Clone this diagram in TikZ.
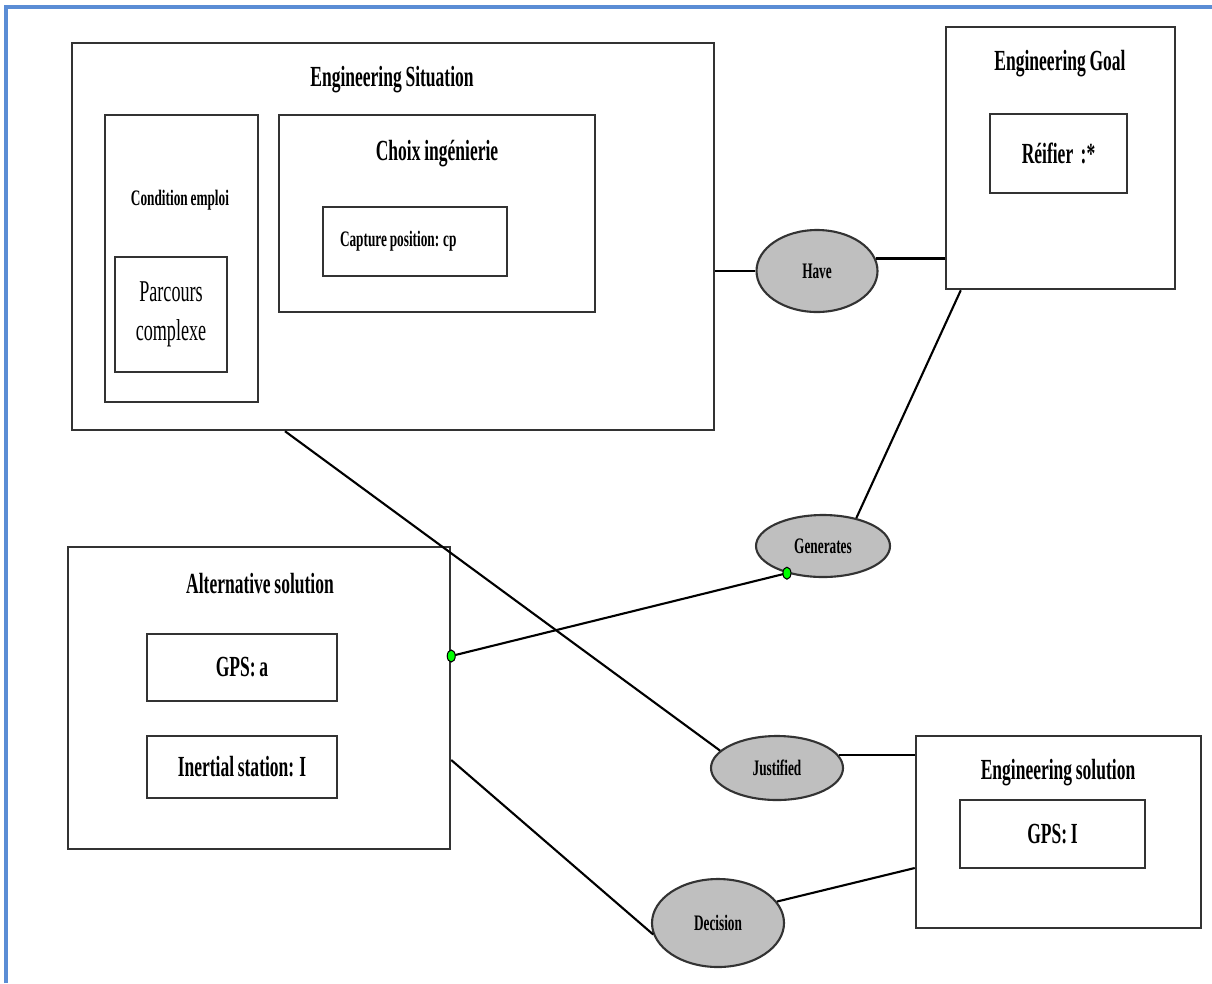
\documentclass[tikz,border=0pt]{standalone}
\usepackage{fontspec}
\setmainfont{Liberation Serif}[FakeStretch=0.6,WordSpace=0.85]
\usetikzlibrary{shapes.geometric,calc}

\begin{document}
\begin{tikzpicture}[x=0.1mm,y=-0.1mm,
      box/.style={draw=black!80,line width=0.7pt,inner sep=0pt},
      rel/.style={ellipse,draw=black!80,fill=black!25,line width=0.6pt,inner sep=0pt,font=\fontsize{6.3}{7}\selectfont\bfseries},
      ttl/.style={font=\fontsize{8.3}{10}\selectfont\bfseries},
      sml/.style={font=\fontsize{6.3}{7}\selectfont\bfseries},
      lnk/.style={line width=0.6pt},
      dot/.style={ellipse,draw=black,fill=green,line width=0.3pt,minimum width=0.8mm,minimum height=1.2mm,inner sep=0pt}]
      \useasboundingbox (0,0) rectangle (1212,983);
      \draw[draw={rgb,255:red,91;green,141;blue,213},line width=1.1pt] (6,983) -- (6,7) -- (1212,7);

      % engineering situation
      \node[box,minimum width=64.2mm,minimum height=38.7mm] (es) at (393,236.5) {};
      \node[ttl] (est) at (392,80) {Engineering Situation};
      \node[box,minimum width=15.3mm,minimum height=28.7mm] (cond) at (181.5,258.5) {};
      \node[sml] (condt) at (180,200) {Condition emploi};
      \node[box,minimum width=11.2mm,minimum height=11.5mm,align=center,font=\fontsize{8.6}{11}\selectfont] (parc) at (171,314.5) {Parcours\\complexe};
      \node[box,minimum width=31.6mm,minimum height=19.7mm] (choix) at (437,213.5) {};
      \node[ttl] (choixt) at (437,154) {Choix ingénierie};
      \node[box,sml,minimum width=18.4mm,minimum height=6.9mm,text width=15mm,inner xsep=1.7mm,align=flush left] (cap) at (415,241.5) {Capture position: cp};

      % engineering goal
      \node[box,minimum width=22.9mm,minimum height=26.2mm] (goal) at (1060.5,158) {};
      \node[ttl] (goalt) at (1060,64) {Engineering Goal};
      \node[box,ttl,minimum width=13.7mm,minimum height=7.9mm] (reif) at (1058.5,153.5) {Réifier~ :*};

      % alternative solution
      \node[box,minimum width=38.2mm,minimum height=30.2mm] (alt) at (259,698) {};
      \node[ttl] (altt) at (260,584) {Alternative solution};
      \node[box,ttl,minimum width=19mm,minimum height=6.7mm] (gpsa) at (242,667.5) {GPS: a};
      \node[box,ttl,minimum width=19mm,minimum height=6.2mm] (ins) at (242,767) {Inertial station: I};

      % engineering solution
      \node[box,minimum width=28.5mm,minimum height=19.2mm] (sol) at (1058.5,832) {};
      \node[ttl] (solt) at (1058,773) {Engineering solution};
      \node[box,ttl,minimum width=18.5mm,minimum height=6.8mm] (gpsi) at (1052.5,834) {GPS: I};

      % relations
      \node[rel,minimum width=12.1mm,minimum height=8.2mm] (have) at (817,271) {Have};
      \node[rel,minimum width=13.4mm,minimum height=6.2mm] (gen) at (823,546) {Generates};
      \node[rel,minimum width=13.2mm,minimum height=6.4mm] (just) at (777,768) {Justified};
      \node[rel,minimum width=13.2mm,minimum height=8.8mm] (dec) at (718,923) {Decision};

      \draw[lnk] (have.west -| es.east) -- (have);
      \draw[lnk] (have.12) -- (have.12 -| goal.west);
      \draw[lnk] ($(goal.south west)+(16,0)$) -- (gen.40);
      \draw[lnk] ($(es.south)+(-108,0)$) -- (just.163);
      \draw[lnk] (just.12) -- (just.12 -| sol.west);
      \draw[lnk] ($(alt.east)+(0,62)$) -- (dec.190);
      \draw[lnk] (dec.20) -- ($(sol.west)+(0,36)$);
      \draw[lnk] ($(alt.east)+(0,-42)$) -- (gen.217);

      \node[dot] (d1) at ($(alt.east)+(0,-42)$) {};
      \node[dot] (d2) at (gen.217) {};
    \end{tikzpicture}
\end{document}
